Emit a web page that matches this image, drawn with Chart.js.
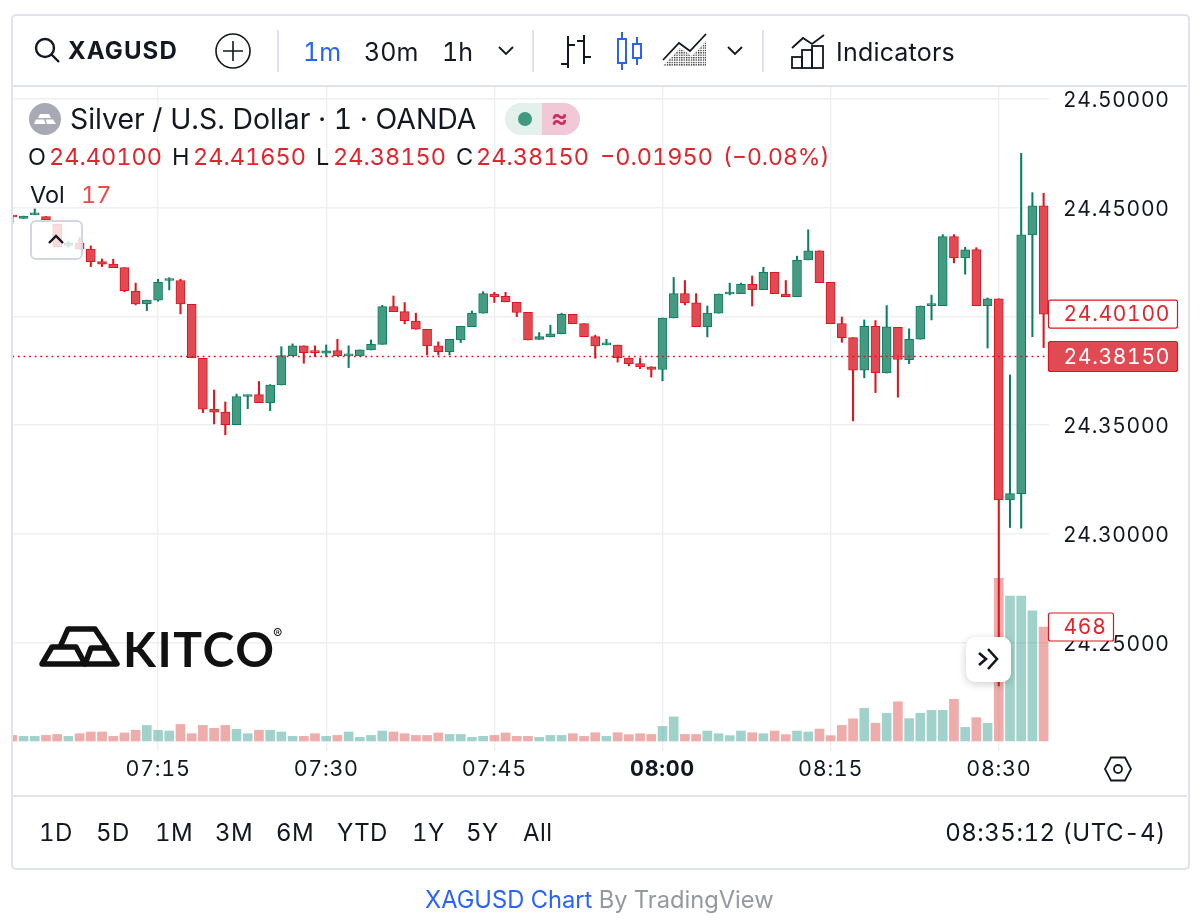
<!DOCTYPE html>
<html>
<head>
<meta charset="utf-8">
<title>XAGUSD Chart</title>
<script src="https://cdn.jsdelivr.net/npm/chart.js"></script>
<style>
  html, body { margin: 0; padding: 0; background: #fff; }
  body { width: 1200px; height: 923px; position: relative; overflow: hidden; font-family: Inter, "Noto Sans", sans-serif; color: #131722; font-variant-numeric: tabular-nums; }
  #chart { position: absolute; left: 0; top: 0; }
  .frame { position: absolute; left: 11px; top: 14px; width: 1175px; height: 852px; border: 2px solid #e0e3eb; border-radius: 5px; pointer-events: none; }
  .hline { position: absolute; left: 13px; width: 1174px; height: 2px; background: #e0e3eb; }
  .vsep { position: absolute; top: 30px; width: 2px; height: 42px; background: #dde1ea; }
  .t { position: absolute; white-space: nowrap; line-height: 1; transform: translateY(-50%); }
  .r { font-size: 24px; letter-spacing: .4px; }
  .o { font-size: 23.5px; }
  svg { position: absolute; overflow: visible; }
  .red { color: #e3242c; }
  .btn { position: absolute; background: rgba(255,255,255,0.8); box-sizing: border-box; }
</style>
</head>
<body>
<canvas id="chart" width="1200" height="923"></canvas>

<div class="frame"></div>
<div class="hline" style="top:85px"></div>
<div class="hline" style="top:795px"></div>

<!-- top toolbar -->
<svg style="left:34px;top:37px" width="28" height="28" fill="none" stroke="#131722" stroke-width="2.4"><circle cx="11" cy="11" r="9"/><path d="M17.5 17.5 L25 25"/></svg>
<div class="t" style="left:68px;top:51px;font-size:24px;font-weight:700;letter-spacing:1.1px">XAGUSD</div>
<svg style="left:215px;top:33px" width="36" height="36" fill="none" stroke="#131722" stroke-width="1.6"><circle cx="18" cy="18" r="17"/><path d="M18 8 V28 M8 18 H28"/></svg>
<div class="vsep" style="left:277px"></div>
<div class="t" style="left:303px;top:52px;font-size:25px;color:#2962ff">1m</div>
<div class="t" style="left:364px;top:52px;font-size:25px">30m</div>
<div class="t" style="left:442px;top:52px;font-size:25px">1h</div>
<svg style="left:498px;top:46px" width="16" height="10" fill="none" stroke="#131722" stroke-width="1.8"><path d="M1 1 L8 8 L15 1"/></svg>
<div class="vsep" style="left:532px"></div>
<svg style="left:560px;top:35px" width="32" height="34" fill="none" stroke="#131722" stroke-width="2"><path d="M8 1 V33 M1 29 H8 M8 10 H15 M24 0 V29 M17 6 H24 M24 22 H31"/></svg>
<svg style="left:617px;top:32px" width="26" height="38" fill="none" stroke="#2962ff" stroke-width="2"><rect x="1" y="7" width="8" height="24"/><path d="M5 0 V7 M5 31 V38"/><rect x="16" y="12" width="8" height="14"/><path d="M20 5 V12 M20 26 V33"/></svg>
<svg style="left:662px;top:33px" width="46" height="34"><defs><pattern id="dots" width="2.4" height="2.4" patternUnits="userSpaceOnUse"><rect width="1.3" height="1.3" fill="#222"/></pattern></defs><path d="M1 33 L18 15 L30 23 L44 8 V33 Z" fill="url(#dots)"/><path d="M1 27 L17 10 L28 18 L44 1" fill="none" stroke="#131722" stroke-width="1.8"/></svg>
<svg style="left:727px;top:46px" width="16" height="10" fill="none" stroke="#131722" stroke-width="1.8"><path d="M1 1 L8 8 L15 1"/></svg>
<div class="vsep" style="left:762px"></div>
<svg style="left:791px;top:33px" width="34" height="36" fill="none" stroke="#131722" stroke-width="1.8"><path d="M1 15 L12 5 L21 11 L33 2"/><rect x="1" y="24" width="10" height="11"/><rect x="11" y="17" width="10" height="18"/><rect x="21" y="13" width="11" height="22"/></svg>
<div class="t" style="left:836px;top:52px;font-size:25px;letter-spacing:.2px">Indicators</div>

<!-- series legend -->
<svg style="left:29px;top:103px" width="32" height="32"><circle cx="16" cy="16" r="16" fill="#a9a9b5"/><path d="M11 11 H20 L22 15 H9 Z M5 21 L7 16.5 H15 L16.5 21 Z M16.5 16.5 H24 L27 21 H18 Z" fill="#fff"/></svg>
<div class="t" style="left:70px;top:119px;font-size:28.4px">Silver / U.S. Dollar · 1 · OANDA</div>
<svg style="left:505px;top:103px" width="75" height="32"><path d="M16 0 H37 V32 H16 A16 16 0 0 1 16 0 Z" fill="#e3f0ec"/><path d="M37 0 H59 A16 16 0 0 1 59 32 H37 Z" fill="#f1c8d5"/><circle cx="20" cy="16" r="7" fill="#3f9a80"/></svg>
<div class="t" style="left:551px;top:118px;font-size:26px;font-weight:600;color:#cf2a65">≈</div>
<div class="t o" style="left:28px;top:157px">O</div>
<div class="t red o" style="left:49px;top:157px">24.40100</div>
<div class="t o" style="left:172px;top:157px">H</div>
<div class="t red o" style="left:193px;top:157px">24.41650</div>
<div class="t o" style="left:316px;top:157px">L</div>
<div class="t red o" style="left:333px;top:157px">24.38150</div>
<div class="t o" style="left:456px;top:157px">C</div>
<div class="t red o" style="left:476px;top:157px">24.38150</div>
<div class="t red o" style="left:600px;top:157px">−0.01950</div>
<div class="t red" style="left:723px;top:157px;font-size:23px">(−0.08%)</div>
<div class="t o" style="left:30px;top:195px">Vol</div>
<div class="t o" style="left:81px;top:195px;color:#ee4a4a">17</div>

<!-- collapse and scroll buttons -->
<div class="btn" style="left:30px;top:220px;width:53px;height:40px;border:2px solid #d3d6e0;border-radius:6px"></div>
<svg style="left:48px;top:234px" width="16" height="10" fill="none" stroke="#131722" stroke-width="2.4"><path d="M1 9 L8 2 L15 9"/></svg>
<div class="btn" style="left:966px;top:637px;width:45px;height:45px;border-radius:9px;background:#fff;box-shadow:0 2px 8px rgba(0,0,0,.2)"></div>
<svg style="left:977px;top:648px" width="24" height="22" fill="none" stroke="#131722" stroke-width="2.6"><path d="M2 5 L9 11 L2 17 M11 1 L20 11 L11 21"/></svg>

<!-- watermark -->
<svg style="left:39px;top:626px" width="82" height="42" fill="none" stroke="#111" stroke-width="5.5" stroke-linejoin="round"><path d="M3 38 L13 21 H37 L46 38 Z"/><path d="M21 21 L29 3 H56 L68 21"/><path d="M46 38 L52 22 H68 L78 38 Z"/></svg>
<div class="t" style="left:123px;top:649px;font-size:48px;font-weight:700;font-family:Lato,sans-serif;color:#111;letter-spacing:1.6px">KITCO</div>
<div class="t" style="left:273px;top:634px;font-size:14px;color:#111">®</div>

<!-- settings hexagon -->
<svg style="left:1104px;top:756px" width="28" height="26" fill="none" stroke="#131722" stroke-width="1.8"><path d="M7 1.5 H21 L27 13 L21 24.5 H7 L1 13 Z"/><circle cx="14" cy="13" r="4"/></svg>

<!-- range bar -->
<div class="t r" style="left:39px;top:833px">1D</div>
<div class="t r" style="left:96px;top:833px">5D</div>
<div class="t r" style="left:155px;top:833px">1M</div>
<div class="t r" style="left:215px;top:833px">3M</div>
<div class="t r" style="left:276px;top:833px">6M</div>
<div class="t r" style="left:337px;top:833px">YTD</div>
<div class="t r" style="left:412px;top:833px">1Y</div>
<div class="t r" style="left:466px;top:833px">5Y</div>
<div class="t r" style="left:523px;top:833px">All</div>
<div class="t" style="right:34px;top:833px;font-size:24px;letter-spacing:.5px">08:35:12 (UTC-4)</div>

<div class="t" style="left:425px;top:900px;font-size:23.7px;color:#2962ff">XAGUSD Chart <span style="color:#9598a1">By TradingView</span></div>

<script>
// one-minute bars, first bar at 07:02 (minutes since midnight)
const firstMinute = 422;

const opens = [
  24.4461, 24.4449, 24.4466, 24.4458, 24.4424, 24.4325, 24.4336, 24.4309, 24.4251, 24.4240,
  24.4223, 24.4116, 24.4057, 24.4074, 24.4164, 24.4164, 24.4055, 24.3807, 24.3573, 24.3559,
  24.3502, 24.3631, 24.3640, 24.3603, 24.3684, 24.3819, 24.3864, 24.3839, 24.3830, 24.3842,
  24.3818, 24.3818, 24.3845, 24.3871, 24.4044, 24.4021, 24.3978, 24.3940, 24.3864, 24.3837,
  24.3891, 24.3952, 24.4014, 24.4102, 24.4092, 24.4064, 24.4018, 24.3893, 24.3905, 24.3919,
  24.4009, 24.3966, 24.3906, 24.3868, 24.3867, 24.3808, 24.3782, 24.3768, 24.3755, 24.3992,
  24.4104, 24.4061, 24.3952, 24.4014, 24.4102, 24.4104, 24.4147, 24.4122, 24.4202, 24.4102,
  24.4090, 24.4259, 24.4301, 24.4156, 24.3966, 24.3902, 24.3752, 24.3954, 24.3739, 24.3949,
  24.3800, 24.3894, 24.4049, 24.4049, 24.4366, 24.4268, 24.4306, 24.4049, 24.4080, 24.3156,
  24.3185, 24.4374, 24.4507
];
const highs = [
  24.4461, 24.4460, 24.4493, 24.4458, 24.4424, 24.4343, 24.4361, 24.4323, 24.4263, 24.4262,
  24.4223, 24.4152, 24.4074, 24.4170, 24.4177, 24.4170, 24.4055, 24.3807, 24.3661, 24.3606,
  24.3642, 24.3638, 24.3700, 24.3686, 24.3860, 24.3873, 24.3864, 24.3864, 24.3868, 24.3894,
  24.3864, 24.3845, 24.3891, 24.4050, 24.4093, 24.4063, 24.4014, 24.3940, 24.3882, 24.3894,
  24.3954, 24.4024, 24.4113, 24.4110, 24.4110, 24.4064, 24.4018, 24.3925, 24.3959, 24.4014,
  24.4009, 24.3966, 24.3913, 24.3894, 24.3867, 24.3808, 24.3807, 24.3768, 24.3992, 24.4178,
  24.4164, 24.4104, 24.4047, 24.4102, 24.4152, 24.4152, 24.4185, 24.4225, 24.4202, 24.4164,
  24.4276, 24.4397, 24.4301, 24.4156, 24.3996, 24.3902, 24.3983, 24.3980, 24.4049, 24.3949,
  24.3942, 24.4047, 24.4097, 24.4375, 24.4375, 24.4317, 24.4315, 24.4084, 24.4080, 24.3730,
  24.4749, 24.4568, 24.4565
];
const lows = [
  24.4429, 24.4449, 24.4466, 24.4443, 24.4320, 24.4317, 24.4309, 24.4228, 24.4228, 24.4223,
  24.4112, 24.4052, 24.4026, 24.4069, 24.4121, 24.4011, 24.3810, 24.3557, 24.3505, 24.3455,
  24.3502, 24.3575, 24.3603, 24.3566, 24.3684, 24.3819, 24.3784, 24.3814, 24.3814, 24.3819,
  24.3764, 24.3818, 24.3845, 24.3871, 24.4021, 24.3965, 24.3940, 24.3822, 24.3822, 24.3822,
  24.3879, 24.3952, 24.4014, 24.4063, 24.4066, 24.3998, 24.3891, 24.3893, 24.3905, 24.3919,
  24.3966, 24.3906, 24.3807, 24.3868, 24.3789, 24.3772, 24.3759, 24.3720, 24.3703, 24.3992,
  24.4052, 24.3952, 24.3905, 24.4014, 24.4098, 24.4104, 24.4047, 24.4122, 24.4104, 24.4090,
  24.4090, 24.4259, 24.4154, 24.3966, 24.3880, 24.3519, 24.3717, 24.3649, 24.3739, 24.3628,
  24.3782, 24.3894, 24.3983, 24.4049, 24.4245, 24.4193, 24.4049, 24.3854, 24.2301, 24.3029,
  24.3026, 24.3906, 24.3856
];
const closes = [
  24.4456, 24.4460, 24.4470, 24.4443, 24.4320, 24.4336, 24.4309, 24.4251, 24.4239, 24.4223,
  24.4118, 24.4057, 24.4074, 24.4156, 24.4170, 24.4057, 24.3810, 24.3573, 24.3559, 24.3502,
  24.3631, 24.3638, 24.3603, 24.3684, 24.3819, 24.3864, 24.3833, 24.3833, 24.3841, 24.3819,
  24.3827, 24.3845, 24.3871, 24.4044, 24.4021, 24.3980, 24.3940, 24.3864, 24.3837, 24.3894,
  24.3954, 24.4014, 24.4104, 24.4089, 24.4066, 24.4017, 24.3891, 24.3906, 24.3919, 24.4009,
  24.3966, 24.3906, 24.3864, 24.3873, 24.3810, 24.3782, 24.3767, 24.3755, 24.3992, 24.4104,
  24.4061, 24.3952, 24.4014, 24.4102, 24.4107, 24.4147, 24.4122, 24.4202, 24.4104, 24.4090,
  24.4257, 24.4301, 24.4154, 24.3966, 24.3902, 24.3752, 24.3954, 24.3741, 24.3951, 24.3801,
  24.3894, 24.4047, 24.4053, 24.4366, 24.4268, 24.4305, 24.4049, 24.4080, 24.3156, 24.3185,
  24.4374, 24.4507, 24.4010
];
const volumes = [
  23, 19, 19, 23, 27, 19, 30, 37, 37, 19,
  33, 44, 64, 44, 41, 68, 30, 64, 52, 64,
  48, 30, 44, 44, 37, 19, 19, 30, 19, 23,
  37, 15, 23, 41, 37, 30, 23, 23, 33, 27,
  27, 15, 19, 23, 33, 19, 19, 15, 23, 23,
  30, 19, 34, 19, 34, 26, 30, 27, 60, 99,
  27, 27, 41, 30, 22, 41, 34, 30, 41, 26,
  41, 37, 49, 22, 64, 91, 134, 73, 114, 161,
  92, 114, 126, 126, 171, 56, 96, 73, 668, 595,
  595, 534, 468
];
const lastPrice = 24.3815;
const lastOpen = 24.401;
const lastVolume = 468;

const UP = { fill: "#459a82", line: "#0a7f62", vol: "rgba(57,160,147,0.48)" };
const DOWN = { fill: "#e14a52", line: "#e3121c", vol: "rgba(222,90,85,0.5)" };
const TEXT = "#131722";
const GRID = "#eff0f3";

const minutes = opens.map((_, i) => firstMinute + i);
const dir = (i) => (closes[i] >= opens[i] ? UP : DOWN);
const hhmm = (v) => `${String(Math.floor(v / 60)).padStart(2, "0")}:${String(v % 60).padStart(2, "0")}`;

// price tags on the right axis, positioned through the scales
const priceTags = {
  id: "priceTags",
  beforeDraw(chart) {
    chart.ctx.letterSpacing = "0.7px";
  },
  afterDraw(chart) {
    const ctx = chart.ctx;
    const price = chart.scales.y;
    const vol = chart.scales.yVol;
    const tag = (text, y, w, h, filled) => {
      ctx.save();
      ctx.beginPath();
      ctx.roundRect(1048.5, y - h / 2, w, h, 2);
      ctx.fillStyle = filled ? DOWN.fill : "#fff";
      ctx.fill();
      ctx.strokeStyle = DOWN.line;
      ctx.lineWidth = 1.2;
      ctx.stroke();
      ctx.font = "21px Inter";
      ctx.textBaseline = "middle";
      ctx.fillStyle = filled ? "#fff" : "#e3242c";
      ctx.fillText(text, 1063.5, y + 1);
      ctx.restore();
    };
    tag(lastOpen.toFixed(5), price.getPixelForValue(lastOpen), 129, 28, false);
    tag(lastPrice.toFixed(5), price.getPixelForValue(lastPrice), 129, 30, true);
    tag(String(lastVolume), vol.getPixelForValue(lastVolume), 65, 28, false);
  },
};

new Chart(document.getElementById("chart"), {
  type: "bar",
  data: {
    datasets: [
      {
        label: "Vol",
        yAxisID: "yVol",
        order: 4,
        barThickness: 9,
        data: minutes.map((m, i) => ({ x: m, y: volumes[i] })),
        backgroundColor: minutes.map((_, i) => dir(i).vol),
      },
      {
        label: "Wick",
        order: 2,
        barThickness: 1.4,
        data: minutes.map((m, i) => ({ x: m, y: [lows[i], highs[i]] })),
        backgroundColor: minutes.map((_, i) => dir(i).line),
      },
      {
        label: "Body",
        order: 1,
        barThickness: 9,
        minBarLength: 2,
        borderWidth: 1,
        borderSkipped: false,
        data: minutes.map((m, i) => ({ x: m, y: [opens[i], closes[i]] })),
        backgroundColor: minutes.map((_, i) => dir(i).fill),
        borderColor: minutes.map((_, i) => dir(i).line),
      },
      {
        type: "line",
        label: "Last",
        order: 0,
        data: [{ x: firstMinute - 1, y: lastPrice }, { x: firstMinute + 94, y: lastPrice }],
        borderColor: DOWN.line,
        borderWidth: 1.7,
        borderDash: [1.8, 3.8],
        pointRadius: 0,
      },
    ],
  },
  plugins: [priceTags],
  options: {
    responsive: false,
    animation: false,
    events: [],
    layout: { padding: { left: 12, right: 12, top: 86, bottom: 128 } },
    datasets: { bar: { grouped: false } },
    plugins: { legend: { display: false }, tooltip: { enabled: false } },
    scales: {
      x: {
        type: "linear",
        offset: false,
        min: 421.97,
        max: 514.48,
        afterFit: (scale) => { scale.height = 44; },
        grid: { color: GRID, lineWidth: 1.4, offset: false, drawTicks: false },
        border: { display: false },
        ticks: {
          stepSize: 15,
          includeBounds: false,
          autoSkip: false,
          maxRotation: 0,
          padding: 6,
          color: TEXT,
          font: (c) => ({ family: "Inter", size: 21.5, weight: c.tick && c.tick.value === 480 ? "700" : "400" }),
          callback: (v) => hhmm(v),
        },
      },
      y: {
        position: "right",
        min: 24.2002,
        max: 24.5058,
        afterFit: (scale) => { scale.width = 139; },
        grid: { color: GRID, lineWidth: 1.4, drawTicks: false },
        border: { display: false },
        ticks: {
          stepSize: 0.05,
          includeBounds: false,
          padding: 14,
          labelOffset: 2,
          color: TEXT,
          font: { family: "Inter", size: 21 },
          callback: (v) => v.toFixed(5),
        },
      },
      // volume pane shares the plot, baseline just above the bottom edge
      yVol: {
        display: false,
        min: -41,
        max: 2689,
      },
    },
  },
});
</script>
</body>
</html>
